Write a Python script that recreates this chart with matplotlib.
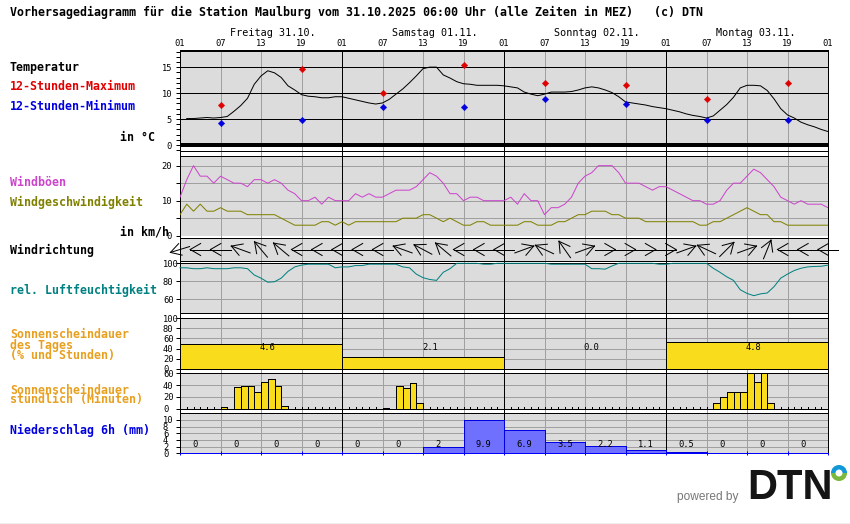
import numpy as np
import matplotlib
matplotlib.use("Agg")
import matplotlib.pyplot as plt
from matplotlib.patches import Wedge

W, H = 850, 524
plt.rcParams['font.family'] = ['DejaVu Sans Mono']
plt.rcParams['lines.antialiased'] = False
plt.rcParams['patch.antialiased'] = False

hours = np.arange(97)
day_labels = ["Freitag 31.10.", "Samstag 01.11.", "Sonntag 02.11.", "Montag 03.11."]
top_hour_labels = ["01", "07", "13", "19"]

temp = [np.nan, 5.1, 5.1, 5.2, 5.3, 5.2, 5.3, 5.5, 6.5, 7.6, 9, 11.7, 13.3, 14.3, 13.9, 13, 11.4, 10.6, 9.7, 9.4, 9.3, 9.1, 9.1, 9.3,
        9.3, 9.0, 8.7, 8.4, 8.1, 7.9, 8.1, 8.8, 9.8, 10.8, 12, 13.3, 14.7, 15, 15, 13.5, 12.9, 12.2, 11.8, 11.7, 11.5, 11.5, 11.5, 11.5,
        11.4, 11.2, 11, 10.2, 9.8, 9.5, 9.8, 10.2, 10.2, 10.2, 10.3, 10.6, 11, 11.2, 11, 10.6, 10.1, 9.3, 8.3, 8.1, 7.9, 7.7, 7.4, 7.2,
        7.0, 6.7, 6.4, 6, 5.7, 5.5, 5.2, 5.6, 6.7, 7.8, 9.2, 11, 11.5, 11.5, 11.4, 10.5, 8.9, 7, 5.8, 5.2, 4.4, 3.9, 3.5, 3, 2.6]
extreme_hours = [6, 18, 30, 42, 54, 66, 78, 90]
temp_max = [7.7, 14.6, 10, 15.4, 11.9, 11.5, 8.8, 11.9]
temp_min = [4.2, 4.9, 7.3, 7.3, 8.9, 7.9, 4.9, 4.9]

gust = [11, 16, 20, 17, 17, 15, 17, 16, 15, 15, 14, 16, 16, 15, 16, 15, 13, 12, 10, 10, 11, 9, 11, 10,
        10, 10, 12, 11, 12, 11, 11, 12, 13, 13, 13, 14, 16, 18, 17, 15, 12, 12, 10, 11, 11, 10, 10, 10,
        10, 11, 9, 12, 10, 10, 6, 8, 8, 9, 11, 15, 17, 18, 20, 20, 20, 18, 15, 15, 15, 14, 13, 14,
        14, 13, 12, 11, 10, 10, 9, 9, 10, 13, 15, 15, 17, 19, 18, 16, 14, 11, 10, 9, 10, 9, 9, 9, 8]
wind = [6, 9, 7, 9, 7, 7, 8, 7, 7, 7, 6, 6, 6, 6, 6, 5, 4, 3, 3, 3, 3, 4, 4, 3,
        4, 3, 4, 4, 4, 4, 4, 4, 4, 5, 5, 5, 6, 6, 5, 4, 5, 4, 3, 3, 4, 4, 3, 3,
        3, 3, 3, 4, 4, 3, 3, 3, 4, 4, 5, 6, 6, 7, 7, 7, 6, 6, 5, 5, 5, 4, 4, 4,
        4, 4, 4, 4, 4, 3, 3, 4, 4, 5, 6, 7, 8, 7, 6, 6, 4, 4, 3, 3, 3, 3, 3, 3, 3]
dir_hours = np.arange(0, 97, 3)
wind_heading = [197, 180, 180, 160, 130, 140, 180, 180, 180, 180, 180, 160, 152, 140, 180, 180, 180,
                20, 155, 125, 20, 0, 0, 0, 0, 20, 155, 45, 20, 68, 180, 180, 180]
humidity = [95, 95, 94, 94, 95, 94, 94, 94, 95, 95, 94, 87, 83.5, 79, 79.5, 83.5, 91, 96, 98, 99, 99, 99, 99, 95,
            96, 96, 97.5, 97.5, 99, 99, 99, 99, 99, 96, 95, 88, 84, 82, 81, 90, 94, 100, 100, 100, 100, 99, 99, 100,
            100, 100, 100, 100, 100, 100, 100, 99, 99, 99, 99, 99, 99, 94, 94, 93.5, 97, 100, 100, 100, 100, 100, 100, 99,
            99, 100, 100, 100, 100, 100, 100, 94.5, 90, 85, 81, 70.6, 66.5, 64, 66, 67, 74, 83.5, 88, 92, 94.5, 96, 96.5, 96.7, 98]

sun_day_pct = [48.5, 22.5, 0, 52.5]
sun_day_hours = ["4.6", "2.1", "0.0", "4.8"]
sun_hourly = [0, 0, 0, 0, 0, 0, 3, 0, 36, 38, 38, 28, 45, 50, 38, 4, 0, 0, 0, 0, 0, 0, 0, 0,
              0, 0, 0, 0, 0, 0, 1, 0, 38, 35, 43, 9, 0, 0, 0, 0, 0, 0, 0, 0, 0, 0, 0, 0,
              0, 0, 0, 0, 0, 0, 0, 0, 0, 0, 0, 0, 0, 0, 0, 0, 0, 0, 0, 0, 0, 0, 0, 0,
              0, 0, 0, 0, 0, 0, 0, 10, 20, 28, 28, 28, 60, 46, 60, 10, 0, 0, 0, 0, 0, 0, 0, 0]
precip = [0, 0, 0, 0, 0, 0, 2, 9.9, 6.9, 3.5, 2.2, 1.1, 0.5, 0, 0, 0]
precip_labels = ["0", "0", "0", "0", "0", "0", "2", "9.9", "6.9", "3.5", "2.2", "1.1", "0.5", "0", "0", "0"]

GRAY, GRID = '#DCDCDC', '#A0A0A0'
PX = 0.45
DATA_LW = 0.72
L, R = 180, 828
TICK = 6.3
day_hours = np.arange(0, 97, 24)
grid_hours = [h for h in range(0, 97, 6) if h % 24]

fig = plt.figure(figsize=(W / 100, H / 100), dpi=100, facecolor='white')


def axes_px(top, bottom, **kw):
    return fig.add_axes([L / W, 1 - bottom / H, (R - L) / W, (bottom - top) / H], **kw)


def verticals(ax):
    for h in grid_hours:
        ax.axvline(h, color=GRID, lw=0.7, zorder=1)
    for h in day_hours:
        ax.axvline(h, color='black', lw=PX, zorder=1.2)


def dline(ax, x, y, color, **kw):
    ax.plot(x, y, color=color, lw=DATA_LW, antialiased=True, zorder=4, **kw)


# backdrop with the hour axis on top
back = axes_px(50.5, 453.3)
back.set_xlim(0, 96)
back.set_yticks([])
verticals(back)
tick_x = np.arange(0, 97, 6)
tick_lab = [top_hour_labels[(i % 4)] for i in range(len(tick_x))]
back.xaxis.tick_top()
back.set_xticks(tick_x, tick_lab)
back.tick_params(axis='x', length=0, pad=1.6, labelsize=TICK)
for s in back.spines.values():
    s.set_linewidth(0.72)
back.spines['bottom'].set_visible(False)
for i, lab in enumerate(day_labels):
    fig.text((L + 50 + 162 * i) / W, 1 - 33 / H, lab, fontsize=7.3, ha='left', va='center')


def panel(top, bottom, ylim, major, minor=None, label_vals=None, left_align=True):
    ax = axes_px(top, bottom, facecolor=GRAY)
    ax.set_xlim(0, 96)
    ax.set_ylim(*ylim)
    ax.set_xticks([])
    verticals(ax)
    ax.set_yticks(major)
    labs = [str(v) if (label_vals is None or v in label_vals) else '' for v in major]
    ax.set_yticklabels(labs)
    if minor is not None:
        ax.set_yticks(minor, minor=True)
    ax.tick_params(axis='y', which='both', length=2.9, width=0.72, labelsize=TICK,
                   pad=9.4 if left_align else 2.9)
    if left_align:
        for t in ax.get_yticklabels():
            t.set_ha('left')
    for s in ax.spines.values():
        s.set_linewidth(0.72)
    return ax


def hgrid(ax, vals, color=GRID, lw=PX):
    for v in vals:
        ax.axhline(v, color=color, lw=lw, zorder=1)


# temperature
a = panel(50.5, 150.5, (-1.05, 18.2), [0, 5, 10, 15], minor=np.arange(-1, 19), left_align=False)
a.axhspan(-1.05, 0, color='white', zorder=0.5)
verticals(a)
hgrid(a, [5, 10, 15], 'black', PX)
a.axhline(0, color='black', lw=1.5, zorder=3)
dline(a, hours, temp, 'black')
a.plot(extreme_hours, temp_max, ls='', marker='D', ms=3.3, mfc='#E00000', mec='#E00000', mew=0.3, zorder=5, antialiased=True)
a.plot(extreme_hours, temp_min, ls='', marker='D', ms=3.3, mfc='#0000E0', mec='#0000E0', mew=0.3, zorder=5, antialiased=True)

# wind
a = panel(155.5, 235.7, (0, 22.9), [0, 5, 10, 15, 20], label_vals=[0, 10, 20], left_align=False)
a.spines['bottom'].set_visible(False)
hgrid(a, [5, 10, 15, 20])
dline(a, hours, gust, '#CC44CC')
dline(a, hours, wind, '#808000')

# wind direction
a = panel(238.3, 260.7, (-11.2, 11.2), [])
for h, d in zip(dir_hours, wind_heading):
    t = np.radians(d)
    ux, uy = np.cos(t), np.sin(t)
    sx = 6.75
    tip = np.array([10 * ux, 10 * uy])
    tail = -tip
    dline(a, h + np.array([tail[0], tip[0]]) / sx, [tail[1], tip[1]], 'black', clip_on=False)
    for b in (np.radians(d + 150), np.radians(d - 150)):
        end = tip + 12 * np.array([np.cos(b), np.sin(b)])
        dline(a, h + np.array([tip[0], end[0]]) / sx, [tip[1], end[1]], 'black', clip_on=False)

# humidity
a = panel(263.3, 313.3, (44.4, 100), [60, 80, 100])
hgrid(a, [60, 80])
dline(a, hours, humidity, '#008080', clip_on=False)

# daily sunshine
a = panel(318.3, 368.7, (0, 100), [0, 20, 40, 60, 80, 100])
hgrid(a, [20, 40, 60, 80])
a.bar(day_hours[:4], sun_day_pct, width=24, align='edge', color='#F9DC1C', edgecolor='black', lw=0.72, zorder=3)
for h, v in zip(day_hours[:4], sun_day_hours):
    a.text(h + 13, 43, v, ha='center', va='center', fontsize=TICK, zorder=5)

# hourly sunshine
a = panel(373.3, 408.7, (0, 60), [0, 20, 40, 60])
hgrid(a, [20, 40])
sun_h = np.arange(96)
vals = np.array(sun_hourly)
a.bar(sun_h[vals > 0], vals[vals > 0], width=1, align='edge', color='#F9DC1C', edgecolor='black', lw=0.72, zorder=3)
zero = [h for h in range(1, 96) if vals[h] == 0 and vals[h - 1] == 0]
a.vlines(zero, 0, 2.6, color='black', lw=PX, zorder=4)

# precipitation
a = panel(413.3, 453.3, (0, 12), [0, 2, 4, 6, 8, 10])
hgrid(a, [2, 4, 6, 8, 10])
bins = np.arange(0, 96, 6)
a.bar(bins[np.array(precip) > 0], np.array(precip)[np.array(precip) > 0], width=6, align='edge',
      color='#7070FF', edgecolor='#0000E0', lw=0.72, zorder=3)
for h, lab in zip(bins, precip_labels):
    a.annotate(lab, (h + 3, 2.5), xytext=(-5.6, 0), textcoords='offset points', ha='left', va='center',
               fontsize=TICK, zorder=5)
a.spines['bottom'].set_color('#0000FF')
a.spines['bottom'].set_linewidth(0.72)
a.set_xticks(tick_x)
a.set_xticklabels([])
a.tick_params(axis='x', length=3, direction='inout', color='#0000FF', width=0.72)

# left-hand texts
BOLD = 8.37
texts = [
    ("Vorhersagediagramm für die Station Maulburg vom 31.10.2025 06:00 Uhr (alle Zeiten in MEZ)   (c) DTN", 10, 12, 'black'),
    ("Temperatur", 10, 67, 'black'),
    ("12-Stunden-Maximum", 10, 87, '#E00000'),
    ("12-Stunden-Minimum", 10, 107, '#0000E0'),
    ("in °C", 120, 137, 'black'),
    ("Windböen", 10, 182, '#CC44CC'),
    ("Windgeschwindigkeit", 10, 202, '#808000'),
    ("in km/h", 120, 232, 'black'),
    ("Windrichtung", 10, 250, 'black'),
    ("rel. Luftfeuchtigkeit", 10, 290, '#008080'),
    ("Sonnenscheindauer", 10, 335, '#E8A020'),
    ("des Tages", 10, 345, '#E8A020'),
    ("(% und Stunden)", 10, 355, '#E8A020'),
    ("Sonnenscheindauer", 10, 390, '#E8A020'),
    ("stündlich (Minuten)", 10, 400, '#E8A020'),
    ("Niederschlag 6h (mm)", 10, 430, '#0000E0'),
]
for s, x, y, c in texts:
    fig.text(x / W, 1 - y / H, s, fontsize=BOLD, fontweight='bold', color=c, ha='left', va='center')

# logo overlay
ov = fig.add_axes([0, 0, 1, 1], facecolor='none')
ov.set_xlim(0, W)
ov.set_ylim(H, 0)
ov.axis('off')
ov.axhline(523, color='#EEEEEE', lw=0.72)
ov.text(677, 497, "powered by", fontsize=8.6, color='#777777', family='Liberation Sans', va='center', ha='left')
ov.text(747, 488, "DTN", fontsize=30, fontweight='bold', color='#151515', family='Liberation Sans', va='center', ha='left')
ring_c = (839, 473)
for th1, th2, col in [(0, 180, '#78B83C'), (180, 360, '#1098D8')]:
    ov.add_patch(Wedge(ring_c, 8, th1, th2, width=4.5, facecolor=col, edgecolor='none', antialiased=True))

fig.savefig("out.png", dpi=100)
